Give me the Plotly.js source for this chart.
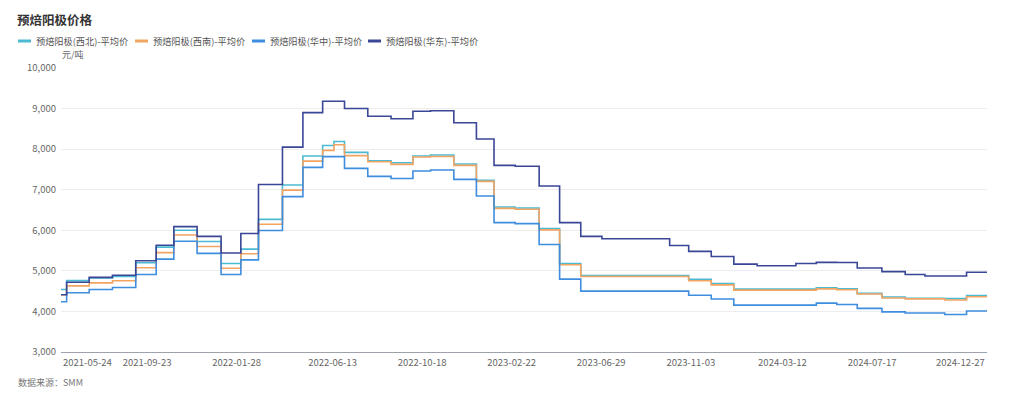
<!DOCTYPE html>
<html>
<head>
<meta charset="utf-8">
<script src="https://cdn.plot.ly/plotly-3.0.1.min.js"></script>
<style>
  html, body { margin: 0; padding: 0; background: #ffffff; }
  #chart { width: 1024px; height: 399px; }
</style>
</head>
<body>
<div id="chart"></div>
<script>
// ---- Data (step change points, 元/吨) ----
const dates = [
  '2021-05-24','2021-06-01','2021-07-03','2021-08-05','2021-09-07','2021-10-06','2021-10-31',
  '2021-12-03','2022-01-06','2022-02-03','2022-02-28','2022-04-03','2022-05-02','2022-05-30',
  '2022-06-15','2022-06-30','2022-08-02','2022-09-04','2022-10-05','2022-10-30','2022-12-02',
  '2023-01-03','2023-01-28','2023-02-27','2023-04-02','2023-05-01','2023-05-31','2023-06-30',
  '2023-10-04','2023-10-31','2023-12-02','2024-01-03','2024-02-05','2024-03-31','2024-04-29',
  '2024-05-28','2024-06-26','2024-07-31','2024-09-02','2024-09-30','2024-10-28','2024-11-28',
  '2024-12-27'
];

const seriesNames = [
  '预焙阳极(西北)-平均价',
  '预焙阳极(西南)-平均价',
  '预焙阳极(华中)-平均价',
  '预焙阳极(华东)-平均价'
];

const northwest = [4540,4760,4825,4865,5200,5585,6000,5725,5180,5535,6270,7115,7830,8090,8190,7920,7715,
  7665,7830,7855,7635,7235,6575,6550,6045,5180,4885,4885,4885,4790,4690,4550,4550,4550,4580,4555,
  4445,4355,4325,4325,4315,4390,4390];

const southwest = [4410,4630,4705,4755,5075,5450,5885,5600,5065,5420,6150,6990,7705,7970,8110,7840,7690,
  7625,7805,7820,7600,7205,6540,6520,6010,5150,4860,4860,4860,4755,4655,4525,4525,4525,4555,4535,
  4430,4330,4310,4310,4280,4360,4360];

const central = [4240,4460,4540,4590,4910,5290,5730,5430,4910,5270,5995,6830,7550,7815,7815,7525,7330,
  7275,7460,7485,7255,6845,6190,6165,5650,4795,4500,4500,4500,4400,4305,4155,4155,4155,4205,4170,
  4075,3990,3960,3960,3925,4010,4010];

const east = [4410,4720,4840,4890,5250,5630,6090,5850,5440,5920,7130,8050,8900,9180,9180,9000,8810,
  8750,8935,8945,8650,8250,7600,7580,7090,6190,5850,5790,5625,5480,5355,5165,5125,5180,5210,5205,
  5070,4980,4910,4875,4875,4965,4965];

const tickDates = ['2021-05-24','2021-09-23','2022-01-28','2022-06-13','2022-10-18','2023-02-22',
  '2023-06-29','2023-11-03','2024-03-12','2024-07-17','2024-12-27'];

const colors = ['#4cbad2', '#f2a463', '#3f8ddf', '#3a4696'];
const allSeries = [northwest, southwest, central, east];

// ---- Layout geometry ----
const W = 1024, H = 399;
const M = { l: 61, r: 37, t: 68, b: 47 };
const PW = W - M.l - M.r, PH = H - M.t - M.b;
const px2x = p => (p - M.l) / PW;          // pixel -> paper x
const py2y = p => (H - M.b - p) / PH;      // pixel -> paper y

const FONT = '"Noto Sans CJK SC", "Noto Sans", sans-serif';

const traces = allSeries.map((vals, i) => ({
  type: 'scatter',
  mode: 'lines',
  name: seriesNames[i],
  x: dates,
  y: vals,
  line: { shape: 'hv', width: 1.6, color: colors[i] },
  hovertemplate: '%{x|%Y-%m-%d}<br>%{y:,}<extra>' + seriesNames[i] + '</extra>'
}));

const shapes = [];
const annotations = [];

// custom legend
const legendSymbolX = [18, 135, 252, 368];
seriesNames.forEach((n, i) => {
  const sx = legendSymbolX[i];
  shapes.push({
    type: 'line', xref: 'paper', yref: 'paper',
    x0: px2x(sx), x1: px2x(sx + 13), y0: py2y(41), y1: py2y(41),
    line: { color: colors[i], width: 3 }
  });
  annotations.push({
    xref: 'paper', yref: 'paper', x: px2x(sx + 16), y: py2y(41),
    xanchor: 'left', yanchor: 'middle', showarrow: false,
    text: n, font: { family: FONT, size: 9.2, color: '#555555' }
  });
});

// unit label
annotations.push({
  xref: 'paper', yref: 'paper', x: px2x(60), y: py2y(55),
  xanchor: 'left', yanchor: 'middle', showarrow: false,
  text: '元/吨', font: { family: FONT, size: 9, color: '#666666' }
});

// first / last x tick labels aligned to the axis ends
annotations.push({
  xref: 'x', yref: 'paper', x: tickDates[0], y: py2y(362),
  xanchor: 'left', yanchor: 'middle', showarrow: false,
  text: tickDates[0], font: { family: FONT, size: 9.5, color: '#666666' }
});
annotations.push({
  xref: 'x', yref: 'paper', x: tickDates[tickDates.length - 1], y: py2y(362),
  xanchor: 'right', yanchor: 'middle', showarrow: false,
  text: tickDates[tickDates.length - 1], font: { family: FONT, size: 9.5, color: '#666666' }
});

// source
annotations.push({
  xref: 'paper', yref: 'paper', x: px2x(16), y: py2y(382),
  xanchor: 'left', yanchor: 'middle', showarrow: false,
  text: '数据来源：SMM', font: { family: FONT, size: 9, color: '#777777' }
});

const midTicks = tickDates.slice(1, -1);

const layout = {
  width: W, height: H,
  margin: M,
  paper_bgcolor: '#ffffff',
  plot_bgcolor: '#ffffff',
  showlegend: false,
  font: { family: FONT, color: '#666666' },
  title: {
    text: '预焙阳极价格',
    xref: 'container', yref: 'container',
    x: 17 / W, xanchor: 'left',
    y: 1 - 21 / H, yanchor: 'middle',
    font: { family: FONT, size: 12.5, color: '#333333', weight: 700 }
  },
  xaxis: {
    type: 'date',
    range: [tickDates[0], tickDates[tickDates.length - 1]],
    tickmode: 'array',
    tickvals: midTicks,
    ticktext: midTicks,
    showgrid: false,
    zeroline: false,
    showline: true,
    linecolor: '#9ea3ab',
    linewidth: 1,
    ticks: '',
    ticklabelstandoff: 2,
    tickfont: { family: FONT, size: 9.5, color: '#666666' },
    fixedrange: true
  },
  yaxis: {
    range: [3000, 10000],
    tickmode: 'linear',
    tick0: 3000,
    dtick: 1000,
    tickformat: ',d',
    showgrid: true,
    gridcolor: '#ededed',
    gridwidth: 1,
    zeroline: false,
    showline: false,
    ticks: '',
    ticklabelstandoff: 4,
    tickfont: { family: FONT, size: 9.5, color: '#666666' },
    fixedrange: true
  },
  shapes: shapes,
  annotations: annotations,
  hovermode: 'x unified'
};

Plotly.newPlot('chart', traces, layout, { displayModeBar: false, responsive: false });
</script>
</body>
</html>
